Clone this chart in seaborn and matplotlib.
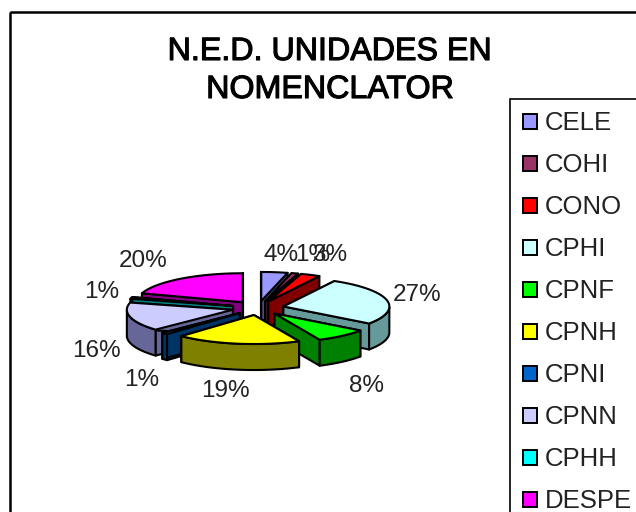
import numpy as np
import matplotlib
matplotlib.use('Agg')
import matplotlib.pyplot as plt
import matplotlib.patheffects as pe
from matplotlib.patches import Polygon, Patch, Rectangle
import seaborn as sns

# data
categories = ['CELE', 'COHI', 'CONO', 'CPHI', 'CPNF', 'CPNH', 'CPNI', 'CPNN', 'CPHH', 'DESPE']
values = [4, 1, 3, 27, 8, 19, 1, 16, 1, 20]
top_colors = ['#9999FF', '#993366', '#FF0000', '#CCFFFF', '#00FF00',
              '#FFFF00', '#0066CC', '#CCCCFF', '#00FFFF', '#FF00FF']
title_lines = ['N.E.D. UNIDADES EN', 'NOMENCLATOR']

# label spots in pixels, same order as categories
label_xy = [(281, 255), (313, 255), (330, 255), (417, 295), (367, 386),
            (225, 391), (142, 380), (96, 351), (102, 292), (143, 261)]

sns.set_theme(style='white')
plt.rcParams['font.family'] = ['Liberation Sans', 'DejaVu Sans']
palette = sns.color_palette(top_colors)

# pie geometry in pixels
cx, cy = 258, 308
rx, ry = 106, 29
depth = 26
explode = 26
squash = ry / rx

fig = plt.figure(figsize=(6.36, 5.12), dpi=100)
ax = fig.add_axes([0, 0, 1, 1])
ax.set_xlim(0, 636)
ax.set_ylim(512, 0)
ax.axis('off')

# chart border, runs off the right and bottom of the picture
ax.add_patch(Rectangle((9.5, 12), 700, 600, fill=False, edgecolor='black', lw=1.8))

fractions = np.array(values) / np.sum(values)
ends = np.cumsum(fractions) * 2 * np.pi
starts = ends - fractions * 2 * np.pi
mids = (starts + ends) / 2
order = np.argsort(-np.cos(mids))

edge = dict(edgecolor='black', lw=1.5, joinstyle='round')

for i in order:
    top = np.array(palette[i])
    side = top * 0.5 if categories[i] != 'CPHI' else np.array([0.4, 0.6, 0.6])
    if categories[i] == 'CPNN':
        side = np.array([0.4, 0.4, 0.6])
    ax0 = cx + explode * np.sin(mids[i])
    ay0 = cy - explode * squash * np.cos(mids[i])
    t = np.linspace(starts[i], ends[i], max(4, int(fractions[i] * 120)))
    xs = ax0 + rx * np.sin(t)
    ys = ay0 - ry * np.cos(t)

    # radial walls
    for k in [0, -1]:
        wall = [(ax0, ay0), (xs[k], ys[k]), (xs[k], ys[k] + depth), (ax0, ay0 + depth)]
        ax.add_patch(Polygon(wall, facecolor=side, **edge))

    # outer wall, only the front half shows
    front = np.cos(t) <= 0.02
    if front.sum() > 1:
        fx, fy = xs[front], ys[front]
        wall = np.vstack([np.c_[fx, fy], np.c_[fx, fy + depth][::-1]])
        ax.add_patch(Polygon(wall, facecolor=side, **edge))

    # top face
    face = np.vstack([[ax0, ay0], np.c_[xs, ys]])
    ax.add_patch(Polygon(face, facecolor=top, **edge))

for i, (x, y) in enumerate(label_xy):
    ax.text(x, y, f'{values[i]}%', fontsize=17.5, color='#222222', ha='center', va='center')

for line, y in zip(title_lines, [52, 90]):
    ax.text(330, y, line, fontsize=23.2, color='black', ha='center', va='center',
            path_effects=[pe.withStroke(linewidth=0.8, foreground='black')])

handles = [Patch(facecolor=palette[i], edgecolor='black', lw=1.4) for i in range(len(categories))]
leg = ax.legend(handles, categories, loc='upper left', bbox_to_anchor=(510.5, 98.5),
                bbox_transform=ax.transData, fontsize=18.5, frameon=True, fancybox=False,
                edgecolor='black', framealpha=1, borderaxespad=0, borderpad=0.5,
                handlelength=0.52, handleheight=0.52, handletextpad=0.3, labelspacing=0.70)
leg.get_frame().set_linewidth(1.2)
for text in leg.get_texts():
    text.set_color('#222222')

fig.savefig('out.png', dpi=100)
